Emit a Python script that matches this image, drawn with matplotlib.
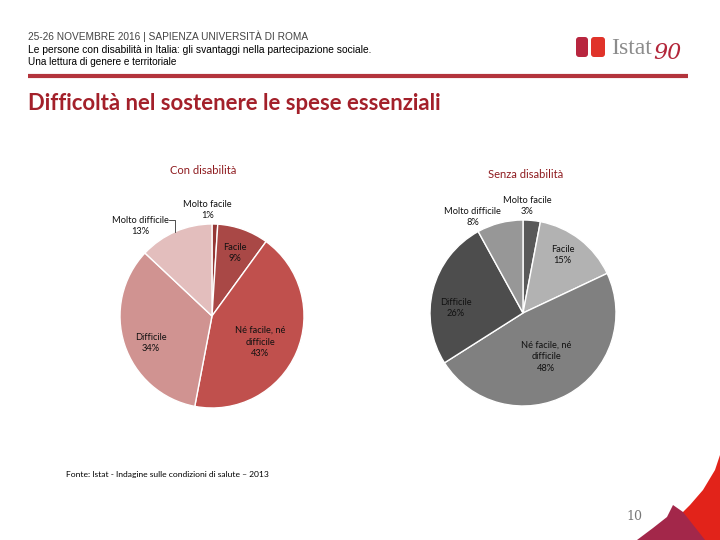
import matplotlib
matplotlib.use("Agg")
import matplotlib.pyplot as plt
from matplotlib.patches import Polygon, FancyBboxPatch
import numpy as np

# ── dati ──────────────────────────────────────────────────────────────────────
categorie = ["Molto facile", "Facile", "Né facile, né\ndifficile", "Difficile", "Molto difficile"]
con_disabilita = [1, 9, 43, 34, 13]
senza_disabilita = [3, 15, 48, 26, 8]

COL_CON = ["#953735", "#A94846", "#C0504D", "#D09391", "#E3BEBD"]
COL_SENZA = ["#595959", "#B2B2B2", "#808080", "#4D4D4D", "#979797"]

FONT = ["Lato", "DejaVu Sans"]
W, H = 720, 540

fig = plt.figure(figsize=(7.2, 5.4), dpi=100, facecolor="white")
ax = fig.add_axes([0, 0, 1, 1])


def py(y):
    # coordinate in pixel dall'alto -> dati
    return H - y


def draw_pie(values, colors, cx, cy, r, title, title_xy, label_style):
    ax.pie(values, colors=colors, center=(cx, py(cy)), radius=r,
           startangle=90, counterclock=False,
           wedgeprops=dict(edgecolor="white", linewidth=1.0))
    ax.text(title_xy[0], py(title_xy[1]), title, ha="center", va="center",
            fontsize=8, color="#8E1B1F", family=FONT)
    start = 90.0
    total = float(sum(values))
    for v, name, (dist, dx, dy) in zip(values, categorie, label_style):
        mid = np.deg2rad(start - v / total * 180.0)
        start -= v / total * 360.0
        x = cx + r * dist * np.cos(mid) + dx
        y = py(cy) + r * dist * np.sin(mid) + dy
        ax.text(x, y, f"{name}\n{v}%", ha="center", va="center",
                fontsize=6.7, color="#111111", family=FONT, linespacing=1.35)


# ── torte ─────────────────────────────────────────────────────────────────────
draw_pie(con_disabilita, COL_CON, 212, 316, 92, "Con disabilità", (203, 170),
         [(1.15, -8, 0), (0.75, 0, -2), (0.55, 2, -6), (0.7, 0, -7), (1.3, -24, -20)])
draw_pie(senza_disabilita, COL_SENZA, 523, 313, 93, "Senza disabilità", (526, 174),
         [(1.18, -6, -2), (0.8, -6, -1), (0.5, 1, -3), (0.68, -6, -11), (1.1, -25, -3)])

# linea guida "Molto difficile" (con disabilità)
ax.plot([169, 175, 175], [py(220), py(220), py(232)], color="#333333", lw=0.6)

# ── intestazione ──────────────────────────────────────────────────────────────
ax.text(28, py(36), "25-26 NOVEMBRE 2016 | SAPIENZA UNIVERSITÀ DI ROMA",
        fontsize=7.3, color="#444444", family="Liberation Sans", va="center")
ax.text(28, py(50), "Le persone con disabilità in Italia: gli svantaggi nella partecipazione sociale.",
        fontsize=7.4, color="black", family="Liberation Sans", va="center")
ax.text(28, py(62), "Una lettura di genere e territoriale",
        fontsize=7.2, color="black", family="Liberation Sans", va="center")
ax.plot([28, 688], [py(76), py(76)], color="#B3343C", lw=3, solid_capstyle="butt")
ax.text(28, py(103), "Difficoltà nel sostenere le spese essenziali",
        fontsize=15.9, color="#A3202A", fontweight="bold", family=FONT, va="center")

# logo
ax.add_patch(FancyBboxPatch((576, py(57)), 12, 20, boxstyle="round,pad=0,rounding_size=3",
                            fc="#B8263F", ec="none"))
ax.add_patch(FancyBboxPatch((591, py(57)), 14, 20, boxstyle="round,pad=0,rounding_size=3",
                            fc="#E0332A", ec="none"))
ax.text(611, py(48), "Istat", fontsize=17, color="#8C8C8C", family="Liberation Serif",
        va="center")
ax.text(653, py(53), "90", fontsize=16, color="#B3263A", family="DejaVu Serif",
        va="center", style="italic")

# ── piè di pagina ─────────────────────────────────────────────────────────────
ax.text(66, py(474), "Fonte: Istat - Indagine sulle condizioni di salute – 2013",
        fontsize=6.1, color="black", family=FONT, va="center")
ax.text(634, py(516), "10", fontsize=9, color="#777777", family="DejaVu Serif",
        ha="center", va="center")

# decorazione angolo in basso a destra
red = np.array([[720, py(455)], [715, py(470)], [703, py(490)], [690, py(505)],
                [683, py(512)], [668, py(540)], [720, py(540)]])
ax.add_patch(Polygon(red, closed=True, fc="#E2231A", ec="none"))
purple = np.array([[637, py(540)], [653, py(528)], [667, py(517)], [673, py(505)],
                   [683, py(512)], [705, py(540)]])
ax.add_patch(Polygon(purple, closed=True, fc="#A3274A", ec="none"))

ax.set_xlim(0, W)
ax.set_ylim(0, H)
ax.set_aspect("equal")
ax.axis("off")

fig.savefig("out.png", dpi=100, facecolor="white")
